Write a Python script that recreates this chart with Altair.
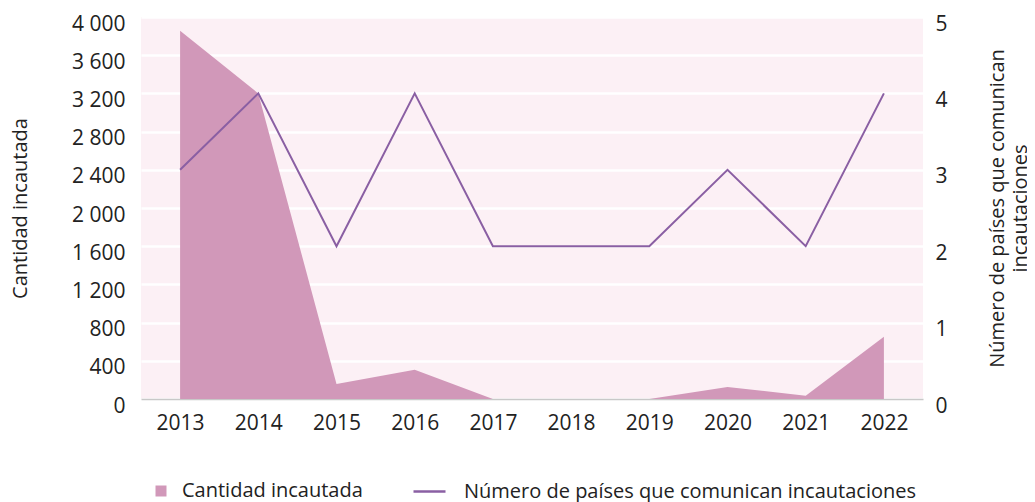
import altair as alt
import pandas as pd

years = ["2013", "2014", "2015", "2016", "2017", "2018", "2019", "2020", "2021", "2022"]
cantidad = [3855, 3200, 157, 305, 0, 0, 0, 126, 35, 652]
paises = [3, 4, 2, 4, 2, 2, 2, 3, 2, 4]
left_ticks = [0, 400, 800, 1200, 1600, 2000, 2400, 2800, 3200, 3600, 4000]
right_ticks = [0, 1, 2, 3, 4, 5]

AREA_NAME = "Cantidad incautada"
LINE_NAME = "Número de países que comunican incautaciones"
PINK = "#d198b9"
PURPLE = "#8a5fa3"
BG = "#fcf0f5"
FONT = "Open Sans"
FS = 20
TFS = 21
TXT = "#222222"

df = pd.DataFrame({"year": years, "cantidad": cantidad, "paises": paises,
                   "s1": AREA_NAME, "s2": LINE_NAME})

x = alt.X("year:O", scale=alt.Scale(type="point", padding=0.5),
          axis=alt.Axis(title=None, labelAngle=0, ticks=False, domainColor="#c8c8c8", domainWidth=1.5,
                        labelPadding=13, labelFontSize=TFS, labelFont=FONT, labelColor=TXT, grid=False))

area = alt.Chart(df).mark_area(opacity=1).encode(
    x=x,
    y=alt.Y("cantidad:Q", scale=alt.Scale(domain=[0, 4000], nice=False),
            axis=alt.Axis(title="Cantidad incautada", values=left_ticks,
                          labelExpr="replace(format(datum.value, ',d'), ',', ' ')",
                          ticks=False, domain=False, grid=True, gridColor="white", gridWidth=2.5,
                          labelPadding=16, labelOffset=7, labelFontSize=TFS, labelFont=FONT,
                          labelColor=TXT,
                          titleFont=FONT, titleFontSize=FS, titleFontWeight="normal",
                          titleColor=TXT, titlePadding=41)),
    color=alt.Color("s1:N", scale=alt.Scale(domain=[AREA_NAME], range=[PINK]),
                    legend=alt.Legend(title=None, orient="none", legendX=10, legendY=464,
                                      symbolType="square", symbolSize=121, labelOffset=11,
                                      labelLimit=400,
                                      labelFont=FONT, labelFontSize=FS, labelColor=TXT,
                                      symbolStrokeWidth=0)),
)

line = alt.Chart(df).mark_line(strokeWidth=2).encode(
    x=x,
    y=alt.Y("paises:Q", scale=alt.Scale(domain=[0, 5], nice=False),
            axis=alt.Axis(title=["Número de países que comunican", "incautaciones"],
                          orient="right", values=right_ticks, ticks=False, domain=False, grid=False,
                          labelPadding=12, labelOffset=7, labelFontSize=TFS, labelFont=FONT,
                          labelColor=TXT,
                          titleFont=FONT, titleFontSize=FS, titleFontWeight="normal",
                          titleColor=TXT, titleAngle=-90, titlePadding=37, titleLineHeight=23)),
    stroke=alt.Stroke("s2:N", scale=alt.Scale(domain=[LINE_NAME], range=[PURPLE]),
                      legend=alt.Legend(title=None, orient="none", legendX=271, legendY=457,
                                        symbolType="stroke", symbolStrokeWidth=2.5, symbolSize=1024,
                                        labelOffset=17, labelLimit=700,
                                        labelFont=FONT, labelFontSize=FS, labelColor=TXT)),
)

chart = alt.layer(area, line).resolve_scale(y="independent", color="independent").properties(
    width=782, height=382,
    autosize=alt.AutoSizeParams(type="none"),
    padding={"left": 133, "top": 9, "right": 104, "bottom": 104},
).configure(background="white").configure_view(fill=BG, stroke=None)

chart.save("out.html", embed_options={"renderer": "svg", "actions": False})
